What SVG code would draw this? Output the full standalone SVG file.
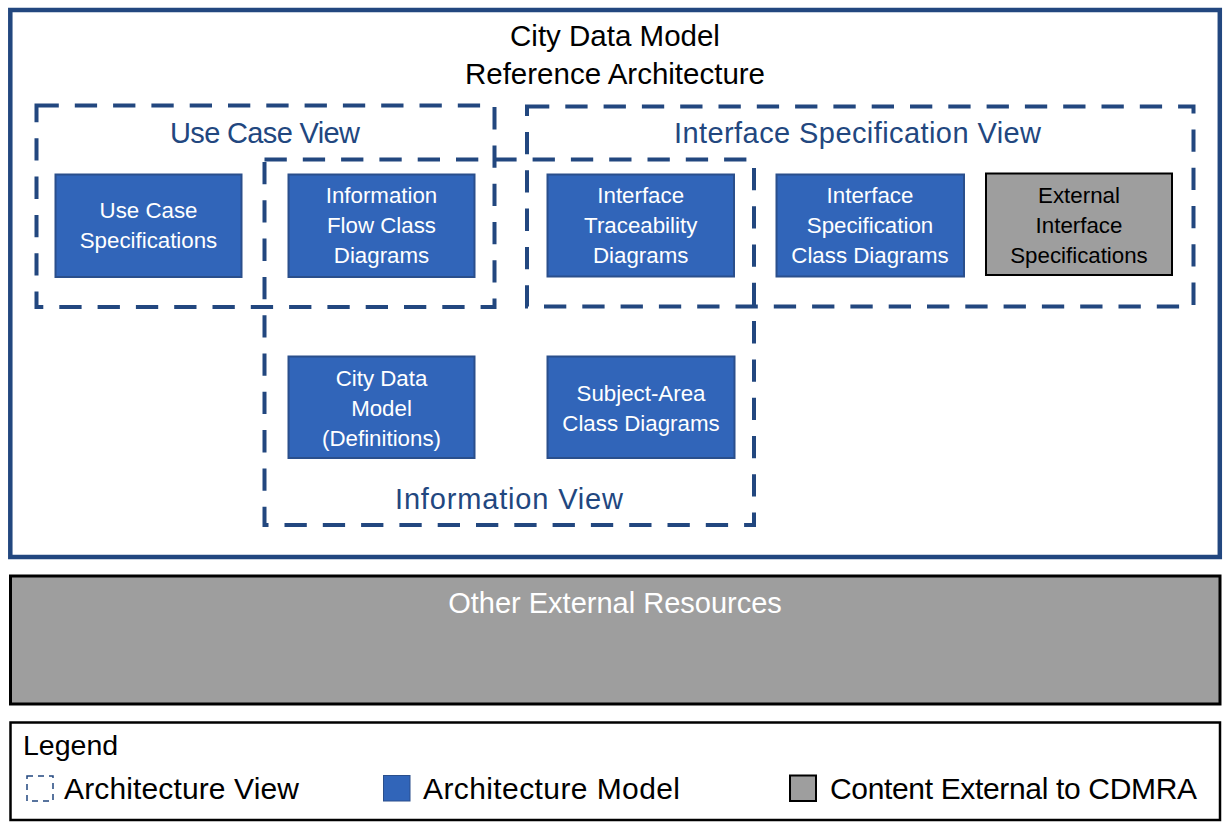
<svg xmlns="http://www.w3.org/2000/svg" width="1231" height="831" viewBox="0 0 1231 831">
<style>
text{font-family:"Liberation Sans",Arial,sans-serif}
.title{font-size:29.5px;fill:#000;text-anchor:middle}
.vt{font-size:29px;fill:#22477F;text-anchor:middle}
.view{fill:none;stroke:#22477F;stroke-width:4;stroke-dasharray:22.3 16}
.model{fill:#3165B9;stroke:#2A4F8C;stroke-width:2}
.ext{fill:#9E9E9E;stroke:#000;stroke-width:2}
.nt{font-size:22.3px;fill:#fff;text-anchor:middle}
.et{font-size:22.3px;fill:#000;text-anchor:middle}
.lt{font-size:30px;fill:#000}
</style>
<rect width="1231" height="831" fill="#fff"/>
<g id="frame">
<rect x="10.3" y="10" width="1209.5" height="547" fill="#fff" stroke="#22477F" stroke-width="4.5"/>
<text class="title" x="615" y="46">City Data Model</text>
<text class="title" x="615" y="84">Reference Architecture</text>
</g>
<g id="connectors"></g>
<g id="use-case-view">
<rect class="view" x="36.5" y="105.5" width="458" height="201.5"/>
<text class="vt" x="265" y="142.5" textLength="190" lengthAdjust="spacing">Use Case View</text>
</g>
<g id="interface-spec-view">
<rect class="view" x="527" y="106.5" width="666.5" height="200"/>
<text class="vt" x="857.5" y="142.5" textLength="367" lengthAdjust="spacing">Interface Specification View</text>
</g>
<g id="information-view">
<rect class="view" x="264.5" y="159.5" width="489.5" height="365.5"/>
<text class="vt" x="509" y="509" textLength="228" lengthAdjust="spacing">Information View</text>
</g>
<g id="use-case-spec">
<rect class="model" x="55.5" y="174.5" width="186" height="102.5"/>
<text class="nt" x="148.5" y="218">Use Case</text>
<text class="nt" x="148.5" y="248">Specifications</text>
</g>
<g id="info-flow">
<rect class="model" x="288.5" y="174.5" width="186" height="102.5"/>
<text class="nt" x="381.5" y="203">Information</text>
<text class="nt" x="381.5" y="233">Flow Class</text>
<text class="nt" x="381.5" y="263">Diagrams</text>
</g>
<g id="interface-trace">
<rect class="model" x="547.5" y="174.5" width="186.5" height="102"/>
<text class="nt" x="640.7" y="203">Interface</text>
<text class="nt" x="640.7" y="233">Traceability</text>
<text class="nt" x="640.7" y="263">Diagrams</text>
</g>
<g id="interface-spec-class">
<rect class="model" x="776.5" y="174.5" width="187.5" height="102"/>
<text class="nt" x="870" y="203">Interface</text>
<text class="nt" x="870" y="233">Specification</text>
<text class="nt" x="870" y="263">Class Diagrams</text>
</g>
<g id="external-interface">
<rect class="ext" x="986" y="173.5" width="186" height="101.5"/>
<text class="et" x="1079" y="203">External</text>
<text class="et" x="1079" y="233">Interface</text>
<text class="et" x="1079" y="263">Specifications</text>
</g>
<g id="city-data-model">
<rect class="model" x="288.5" y="356.5" width="186" height="101.5"/>
<text class="nt" x="381.5" y="386">City Data</text>
<text class="nt" x="381.5" y="416">Model</text>
<text class="nt" x="381.5" y="446">(Definitions)</text>
</g>
<g id="subject-area">
<rect class="model" x="547.5" y="356.5" width="187" height="101.5"/>
<text class="nt" x="641" y="401">Subject-Area</text>
<text class="nt" x="641" y="431">Class Diagrams</text>
</g>
<g id="other-external">
<rect x="10.5" y="576" width="1209.5" height="128" fill="#9E9E9E" stroke="#000" stroke-width="3"/>
<text x="615" y="613" font-size="29px" fill="#fff" text-anchor="middle">Other External Resources</text>
</g>
<g id="legend">
<rect x="10.5" y="722.5" width="1209.5" height="97.5" fill="#fff" stroke="#000" stroke-width="2.5"/>
<text class="lt" x="23" y="755" font-size="28.5px" style="font-size:28.5px">Legend</text>
<rect x="27" y="776" width="26" height="25" fill="none" stroke="#22477F" stroke-width="1.5" stroke-dasharray="6 5"/>
<text class="lt" x="64" y="799" textLength="235" lengthAdjust="spacing">Architecture View</text>
<rect x="383.5" y="775.5" width="26.5" height="25.5" fill="#3165B9" stroke="#2A4F8C" stroke-width="1"/>
<text class="lt" x="423" y="799" textLength="257" lengthAdjust="spacing">Architecture Model</text>
<rect x="790" y="775.5" width="26" height="25.5" fill="#9E9E9E" stroke="#000" stroke-width="2"/>
<text class="lt" x="830" y="799" textLength="367" lengthAdjust="spacing">Content External to CDMRA</text>
</g>
</svg>
